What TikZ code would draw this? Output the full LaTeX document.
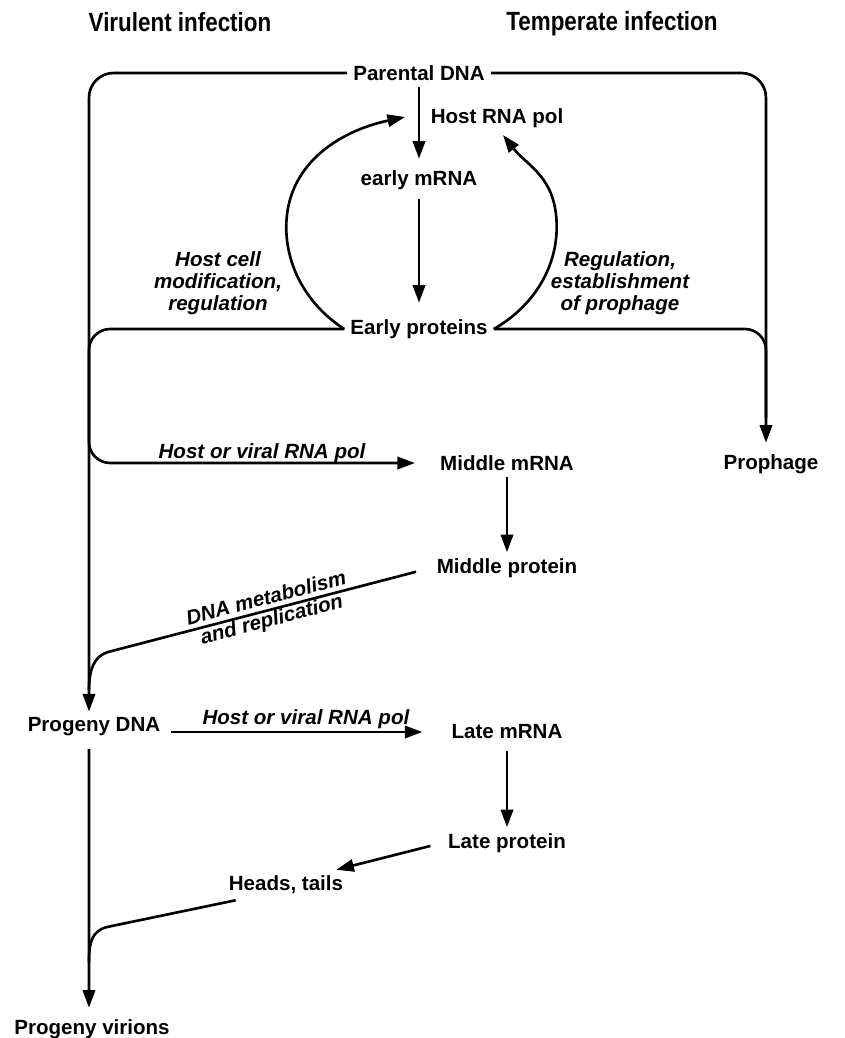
\documentclass[tikz,border=0pt]{standalone}
\usepackage{fontspec}
\setmainfont{Liberation Sans}
\newfontfamily\headfont[FakeStretch=0.85]{Liberation Sans}
\usetikzlibrary{arrows.meta}

\begin{document}
\begin{tikzpicture}[x=0.02cm, y=0.02cm,
    lbl/.style={font=\fontsize{11.7}{12}\selectfont\bfseries},
    note/.style={font=\fontsize{11.7}{12.6}\selectfont\bfseries\itshape, align=center},
    head/.style={font=\headfont\fontsize{15}{17}\selectfont\bfseries},
    link/.style={line width=1.5pt},
    flow/.style={link, -{Triangle[length=10pt, width=7pt]}}]
  \useasboundingbox (0,0) rectangle (845,-1038);
  % column titles
  \node[head] (virul) at (180,-22) {Virulent infection};
  \node[head] (temper) at (612,-24) {Temperate infection};
  % early stage
  \node[lbl] (pdna) at (419,-73) {Parental DNA};
  \node[lbl] (hrpol) at (497,-118) {Host RNA pol};
  \node[lbl] (emrna) at (419,-180) {early mRNA};
  \node[lbl] (eprot) at (419,-329) {Early proteins};
  \node[note] (hostmod) at (218,-283) {Host cell\\modification,\\regulation};
  \node[note] (regproph) at (620,-283) {Regulation,\\establishment\\of prophage};
  \node[lbl] (proph) at (771,-464) {Prophage};
  % middle stage
  \node[lbl] (mmrna) at (507,-463) {Middle mRNA};
  \node[lbl] (mprot) at (507,-568) {Middle protein};
  \node[note] (hvpol1) at (262,-453) {Host or viral RNA pol};
  % late stage
  \node[lbl] (progdna) at (94,-727) {Progeny DNA};
  \node[lbl] (lmrna) at (507,-732) {Late mRNA};
  \node[lbl] (lprot) at (507,-843) {Late protein};
  \node[lbl] (heads) at (286,-885) {Heads, tails};
  \node[lbl] (progvir) at (92,-1029) {Progeny virions};

  \coordinate (ltip) at (405,-117);
  \coordinate (rtip) at (503,-135);
  \coordinate (lcol) at (89,-400);
  \coordinate (dnabend) at (108,-652);
  \coordinate (dnajoin) at (89,-690);
  \coordinate (htbend) at (107,-927);
  \coordinate (htjoin) at (89,-962);

  % parental DNA splits
  \draw[flow, rounded corners=14pt] (pdna.west) -| ([xshift=-0.1cm]progdna.north);
  \draw[flow, rounded corners=14pt, shorten >=0.11cm] (pdna.east) -| ([xshift=-0.1cm]proph.north);
  \draw[flow, shorten >=0.11cm] (pdna) -- (emrna);
  \draw[flow, shorten <=0.07cm, shorten >=0.21cm] (emrna) -- (eprot);
  % regulation loops
  \draw[flow] (eprot.west) arc[start angle=235, end angle=180, x radius=136, y radius=124.5]
    .. controls +(90:62) and +(192:68) .. (ltip);
  \draw[flow] (eprot.east) arc[start angle=-57.5, end angle=0, x radius=136, y radius=120.9]
    .. controls +(90:50) and +(-52:40) .. (rtip);
  % early proteins split
  \draw[flow, rounded corners=12pt, shorten >=0.38cm] (eprot.west) -| (lcol) |- (mmrna.west);
  \draw[link, rounded corners=12pt, shorten >=0.6cm] (eprot.east) -| ([xshift=-0.1cm]proph.north);
  \draw[flow] (mmrna) -- (mprot);
  \draw[link, shorten <=0.3cm] (mprot.west) -- node[note, sloped, inner sep=0pt] (dnameta)
    {DNA metabolism\\and replication} (dnabend)
    .. controls +(-14,-4) and +(0,20) .. (dnajoin);
  % late transcription
  \draw[flow, shorten <=0.1cm, shorten >=0.46cm] (progdna.east |- lmrna) --
    node[note, above=1pt, inner sep=0pt] (hvpol2) {Host or viral RNA pol} (lmrna.west);
  \draw[flow, shorten <=0.11cm] (lmrna) -- (lprot);
  \draw[flow, shorten <=0.24cm] (lprot.west) -- ([xshift=-0.26cm]heads.north east);
  \draw[link] ([xshift=0.26cm]heads.south west) -- (htbend)
    .. controls +(-15,-4) and +(0,20) .. (htjoin);
  \draw[flow, shorten <=0.13cm, shorten >=0.11cm] ([xshift=-0.1cm]progdna.south) -- ([xshift=-0.06cm]progvir.north);
\end{tikzpicture}
\end{document}
